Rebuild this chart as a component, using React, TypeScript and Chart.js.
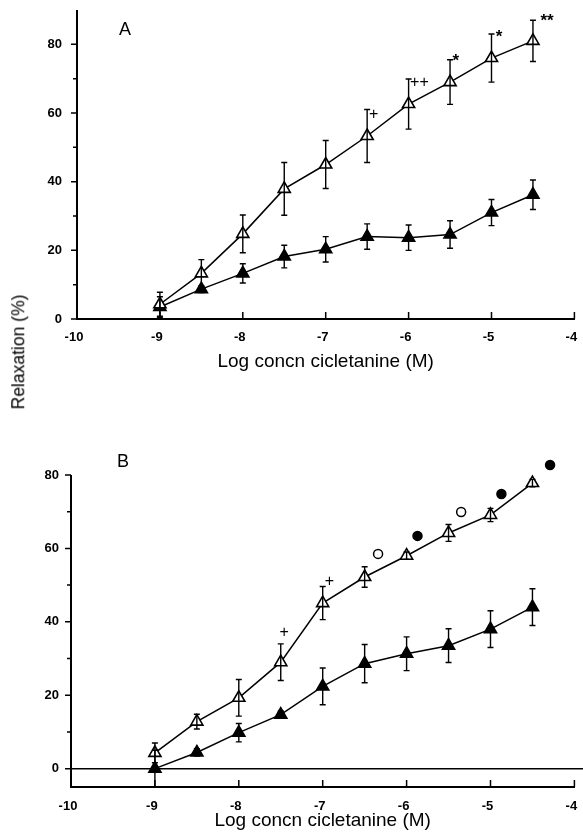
import React, { useEffect, useRef } from 'react';
import { Chart, registerables } from 'chart.js';

Chart.register(...registerables);

// ---------- data ----------
const logConc = [-9, -8.5, -8, -7.5, -7, -6.5, -6, -5.5, -5, -4.5];
const xTickValues = [-10, -9, -8, -7, -6, -5, -4];
const yTickValues = [0, 20, 40, 60, 80];
const yMinorTickValues = [10, 30, 50, 70];

// Panel A
const aOpenMean = [4.3, 13.3, 24.8, 37.9, 45, 53.3, 62.6, 69, 76, 81];
const aOpenSem = [3.5, 4, 5.5, 7.7, 7, 7.7, 7.3, 6.5, 7, 6];
const aFilledMean = [3.5, 8.7, 13.3, 18.2, 20.3, 24, 23.7, 24.6, 31, 36.2];
const aFilledSem = [3, 1, 2.8, 3.3, 3.7, 3.7, 3.7, 4, 3.8, 4.3];
const aMarkText = ['+', '++', '*', '*', '**'];
const aMarkX = [-6.42, -5.87, -5.43, -4.91, -4.33];
const aMarkY = [59.4, 69, 76.2, 83.2, 87.8];

// Panel B
const bOpenMean = [4.3, 12.8, 19.3, 29, 45.1, 52.2, 58, 64.2, 69.1, 77.8];
const bOpenSem = [2.7, 2, 5, 5, 4.5, 2.8, 1, 2.3, 1.8, 1];
const bFilledMean = [0, 4.4, 9.8, 14.7, 22.4, 28.6, 31.3, 33.5, 38, 44];
const bFilledSem = [5, 1, 2.5, 1, 5, 5.2, 4.6, 4.6, 5, 5];
const bOpenCircleX = [-6.34, -5.35];
const bOpenCircleY = [58.5, 69.9];
const bFilledCircleX = [-5.87, -4.87, -4.29];
const bFilledCircleY = [63.4, 74.8, 82.7];
const bMarkText = ['+', '+'];
const bMarkX = [-7.46, -6.92];
const bMarkY = [37, 50.9];

const FONT = '"Liberation Sans", Arial, Helvetica, sans-serif';

type PanelCfg = {
  letter: string;
  letterX: number;
  letterY: number;
  axisTop: number;
  errors: { [idx: number]: number[] };
  marks: { text: string[]; x: number[]; y: number[] };
  zeroLine: boolean;
};

function makeDecor(cfg: PanelCfg) {
  return {
    id: 'decor' + cfg.letter,
    beforeDatasetsDraw(chart: any) {
      const { ctx, chartArea } = chart;
      const ys = chart.scales.y;
      if (cfg.zeroLine) {
        ctx.save();
        ctx.strokeStyle = '#000';
        ctx.lineWidth = 1.5;
        const y0 = ys.getPixelForValue(0);
        ctx.beginPath();
        ctx.moveTo(chartArea.left, y0);
        ctx.lineTo(chart.width, y0);
        ctx.stroke();
        ctx.restore();
      }
    },
    afterDatasetsDraw(chart: any) {
      const { ctx } = chart;
      const ys = chart.scales.y;
      ctx.save();
      ctx.strokeStyle = '#000';
      ctx.lineWidth = 1.4;
      Object.keys(cfg.errors).forEach((k) => {
        const di = Number(k);
        const errs = cfg.errors[di];
        const meta = chart.getDatasetMeta(di);
        const ds = chart.data.datasets[di];
        meta.data.forEach((pt: any, i: number) => {
          const v = ds.data[i].y;
          const e = errs[i];
          const yt = ys.getPixelForValue(v + e);
          const yb = ys.getPixelForValue(v - e);
          ctx.beginPath();
          ctx.moveTo(pt.x, yt);
          ctx.lineTo(pt.x, yb);
          ctx.moveTo(pt.x - 3, yt);
          ctx.lineTo(pt.x + 3, yt);
          ctx.moveTo(pt.x - 3, yb);
          ctx.lineTo(pt.x + 3, yb);
          ctx.stroke();
        });
      });
      ctx.restore();
    },
    afterDraw(chart: any) {
      const { ctx, chartArea } = chart;
      const xs = chart.scales.x;
      const ys = chart.scales.y;
      ctx.save();
      ctx.strokeStyle = '#000';
      // y axis line
      ctx.lineWidth = 2;
      ctx.beginPath();
      ctx.moveTo(chartArea.left, chartArea.bottom + 1);
      ctx.lineTo(chartArea.left, ys.getPixelForValue(cfg.axisTop));
      ctx.stroke();
      // ticks
      ctx.lineWidth = 1.5;
      ctx.beginPath();
      yTickValues.forEach((v) => {
        const y = ys.getPixelForValue(v);
        ctx.moveTo(chartArea.left - 6, y);
        ctx.lineTo(chartArea.left, y);
      });
      yMinorTickValues.forEach((v) => {
        const y = ys.getPixelForValue(v);
        ctx.moveTo(chartArea.left - 4, y);
        ctx.lineTo(chartArea.left, y);
      });
      xTickValues.forEach((v) => {
        const x = xs.getPixelForValue(v);
        ctx.moveTo(x, chartArea.bottom);
        ctx.lineTo(x, chartArea.bottom - 7);
      });
      ctx.stroke();
      // significance marks
      ctx.fillStyle = '#000';
      ctx.textAlign = 'center';
      ctx.textBaseline = 'middle';
      cfg.marks.text.forEach((t, i) => {
        const isStar = t.indexOf('*') >= 0;
        ctx.font = (isStar ? 'bold 17px ' : '16px ') + FONT;
        const x = xs.getPixelForValue(cfg.marks.x[i]);
        const y = ys.getPixelForValue(cfg.marks.y[i]) + (isStar ? 4 : 0);
        ctx.fillText(t, x, y);
      });
      // panel letter
      ctx.font = '18px ' + FONT;
      ctx.fillText(cfg.letter, cfg.letterX, cfg.letterY);
      ctx.restore();
    },
  };
}

function lineDataset(values: number[], filled: boolean) {
  return {
    data: logConc.map((x, i) => ({ x, y: values[i] })),
    borderColor: '#000',
    borderWidth: 1.5,
    pointStyle: 'triangle',
    pointRadius: 7,
    pointBackgroundColor: filled ? '#000' : '#fff',
    pointBorderColor: '#000',
    pointBorderWidth: 1.6,
    tension: 0,
    fill: false,
    clip: false as any,
  };
}

function circleDataset(xv: number[], yv: number[], filled: boolean) {
  return {
    data: xv.map((x, i) => ({ x, y: yv[i] })),
    showLine: false,
    borderColor: '#000',
    pointStyle: 'circle',
    pointRadius: 4.5,
    pointBackgroundColor: filled ? '#000' : '#fff',
    pointBorderColor: '#000',
    pointBorderWidth: 1.5,
    clip: false as any,
  };
}

function makeOptions(p: {
  yMin: number;
  yMax: number;
  top: number;
  right: number;
  yWidth: number;
  xHeight: number;
  yPad: number;
  xPad: number;
  titleBottom: number;
}) {
  const tickFont = { family: FONT, size: 13, weight: 'bold' as const };
  return {
    animation: false as const,
    responsive: false,
    maintainAspectRatio: false,
    events: [] as any[],
    layout: { padding: { top: p.top, right: p.right, left: 0, bottom: 0 } },
    plugins: { legend: { display: false }, tooltip: { enabled: false } },
    scales: {
      x: {
        type: 'linear' as const,
        min: -10,
        max: -4,
        grid: { display: false, drawTicks: false },
        border: { display: true, color: '#000', width: 2 },
        ticks: { color: '#000', font: tickFont, padding: p.xPad, labelOffset: -3, maxRotation: 0, autoSkip: false },
        afterBuildTicks: (s: any) => {
          s.ticks = xTickValues.map((v) => ({ value: v }));
        },
        afterFit: (s: any) => {
          s.height = p.xHeight;
          s.paddingLeft = 0;
          s.paddingRight = 0;
        },
        title: {
          display: true,
          text: 'Log concn cicletanine (M)',
          color: '#000',
          font: { family: FONT, size: 19 },
          padding: { top: 0, bottom: p.titleBottom },
        },
      },
      y: {
        type: 'linear' as const,
        min: p.yMin,
        max: p.yMax,
        grid: { display: false, drawTicks: false },
        border: { display: false },
        ticks: { color: '#000', font: tickFont, padding: p.yPad, autoSkip: false },
        afterBuildTicks: (s: any) => {
          s.ticks = yTickValues.map((v) => ({ value: v }));
        },
        afterFit: (s: any) => {
          s.width = p.yWidth;
          s.paddingTop = 0;
          s.paddingBottom = 0;
        },
      },
    },
  };
}

export default function App() {
  const refA = useRef<HTMLCanvasElement>(null);
  const refB = useRef<HTMLCanvasElement>(null);

  useEffect(() => {
    const chartA = new Chart(refA.current as HTMLCanvasElement, {
      type: 'line',
      data: {
        datasets: [lineDataset(aOpenMean, false), lineDataset(aFilledMean, true)] as any,
      },
      options: makeOptions({
        yMin: 0,
        yMax: 90,
        top: 10,
        right: 3,
        yWidth: 77,
        xHeight: 61,
        yPad: 15,
        xPad: 11,
        titleBottom: 7,
      }) as any,
      plugins: [
        makeDecor({
          letter: 'A',
          letterX: 125,
          letterY: 30,
          axisTop: 90,
          errors: { 0: aOpenSem, 1: aFilledSem },
          marks: { text: aMarkText, x: aMarkX, y: aMarkY },
          zeroLine: false,
        }),
      ],
    });

    const chartB = new Chart(refB.current as HTMLCanvasElement, {
      type: 'line',
      data: {
        datasets: [
          lineDataset(bOpenMean, false),
          lineDataset(bFilledMean, true),
          circleDataset(bOpenCircleX, bOpenCircleY, false),
          circleDataset(bFilledCircleX, bFilledCircleY, true),
        ] as any,
      },
      options: makeOptions({
        yMin: -5,
        yMax: 85,
        top: 36.6,
        right: 1,
        yWidth: 71,
        xHeight: 51,
        yPad: 12,
        xPad: 12,
        titleBottom: 6,
      }) as any,
      plugins: [
        makeDecor({
          letter: 'B',
          letterX: 123,
          letterY: 42,
          axisTop: 80,
          errors: { 0: bOpenSem, 1: bFilledSem },
          marks: { text: bMarkText, x: bMarkX, y: bMarkY },
          zeroLine: true,
        }),
      ],
    });

    return () => {
      chartA.destroy();
      chartB.destroy();
    };
  }, []);

  return (
    <div style={{ position: 'absolute', left: 0, top: 0, width: 583, height: 838, background: '#fff' }}>
      <canvas
        ref={refA}
        width={583}
        height={380}
        style={{ position: 'absolute', left: 0, top: 0, width: 583, height: 380 }}
      />
      <canvas
        ref={refB}
        width={583}
        height={418}
        style={{ position: 'absolute', left: 0, top: 420, width: 583, height: 418 }}
      />
      <div
        style={{
          position: 'absolute',
          left: 19,
          top: 352,
          transform: 'translate(-50%, -50%) rotate(-90deg)',
          fontFamily: FONT,
          fontSize: 17.5,
          color: '#000',
          whiteSpace: 'nowrap',
          lineHeight: 1,
        }}
      >
        Relaxation (%)
      </div>
    </div>
  );
}
